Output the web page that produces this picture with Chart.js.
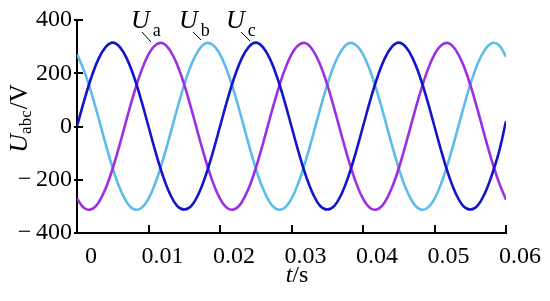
<!DOCTYPE html>
<html>
<head>
<meta charset="utf-8">
<script src="https://cdn.jsdelivr.net/npm/chart.js@4.4.1/dist/chart.umd.min.js"></script>
<style>
  html, body { margin: 0; padding: 0; background: #fff; }
  #wrap { width: 550px; height: 301px; }
</style>
</head>
<body>
<div id="wrap"><canvas id="abcChart"></canvas></div>
<script>
const times = [];
for (let k = 0; k <= 60; k++) times.push(k / 1000);

const uBlue = [0, 97, 184, 253, 298, 315, 298, 253, 184, 97,
    0, -97, -184, -253, -298, -312, -298, -253, -184, -97,
    0, 97, 184, 253, 298, 315, 298, 253, 184, 97,
    0, -97, -184, -253, -298, -312, -298, -253, -184, -97,
    0, 97, 184, 253, 298, 315, 298, 253, 184, 97,
    0, -97, -184, -253, -298, -312, -298, -253, -184, -97, 20];

const uMagenta = [-271, -306, -311, -286, -233, -157, -65, 33, 127, 209,
    271, 306, 313, 286, 233, 157, 65, -33, -127, -209,
    -271, -306, -311, -286, -233, -157, -65, 33, 127, 209,
    271, 306, 313, 286, 233, 157, 65, -33, -127, -209,
    -271, -306, -311, -286, -233, -157, -65, 33, 127, 209,
    271, 306, 313, 286, 233, 157, 65, -33, -127, -209, -275];

const uCyan = [271, 209, 127, 33, -65, -157, -233, -286, -311, -306,
    -271, -209, -127, -33, 65, 157, 233, 286, 313, 306,
    271, 209, 127, 33, -65, -157, -233, -286, -311, -306,
    -271, -209, -127, -33, 65, 157, 233, 286, 313, 306,
    271, 209, 127, 33, -65, -157, -233, -286, -311, -306,
    -271, -209, -127, -33, 65, 157, 233, 286, 313, 306, 262];

const xTicks = [0, 0.01, 0.02, 0.03, 0.04, 0.05, 0.06];
const yTicks = [-400, -200, 0, 200, 400];

const serif = "'Liberation Serif', 'Times New Roman', serif";

function pts(vals) {
    return vals.map((v, i) => ({ x: times[i], y: v }));
}

// inward tick marks, axis titles and curve labels
const decor = {
    id: 'decor',
    afterDraw(chart) {
        const c = chart.ctx;
        const xs = chart.scales.x, ys = chart.scales.y;
        const area = chart.chartArea;
        c.save();
        c.fillStyle = '#000';
        yTicks.forEach(v => {
            const py = Math.round(ys.getPixelForValue(v));
            c.fillRect(area.left - 3, py - 1, 9, 2);
        });
        xTicks.slice(1).forEach(v => {
            const px = Math.round(xs.getPixelForValue(v));
            c.fillRect(px - 1, area.bottom - 8, 2, 9);
        });

        c.strokeStyle = '#000';
        c.textBaseline = 'alphabetic';
        // x title
        c.font = 'italic 24px ' + serif;
        const tw = c.measureText('t').width;
        c.font = '24px ' + serif;
        const sw = c.measureText('/s').width;
        let x0 = 297 - (tw + sw) / 2;
        c.font = 'italic 24px ' + serif;
        c.fillText('t', x0, 282);
        c.font = '24px ' + serif;
        c.fillText('/s', x0 + tw, 282);

        // y title, rotated
        c.save();
        c.translate(27, 119);
        c.rotate(-Math.PI / 2);
        c.font = 'italic 26px ' + serif;
        const uw = c.measureText('U').width;
        c.font = '17px ' + serif;
        const aw = c.measureText('abc').width;
        c.font = '25px ' + serif;
        const vw = c.measureText('/V').width;
        let s = -(uw + aw + vw) / 2;
        c.font = 'italic 26px ' + serif;
        c.fillText('U', s, 0);
        c.font = '17px ' + serif;
        c.fillText('abc', s + uw, 4);
        c.font = '25px ' + serif;
        c.fillText('/V', s + uw + aw + 1, 0);
        c.restore();

        // curve labels with leader lines
        const labels = [
            { sub: 'a', x: 131, lx: 142, ly: 32, ex: 151, ey: 42 },
            { sub: 'b', x: 179, lx: 193, ly: 32, ex: 201, ey: 40 },
            { sub: 'c', x: 226, lx: 241, ly: 32, ex: 250, ey: 41 }
        ];
        labels.forEach(l => {
            c.font = 'italic 26px ' + serif;
            c.fillText('U', l.x, 28);
            const w = c.measureText('U').width;
            c.font = '18px ' + serif;
            c.fillText(l.sub, l.x + w + 3, 36);
            c.lineWidth = 1;
            c.beginPath(); c.moveTo(l.lx, l.ly); c.lineTo(l.ex, l.ey); c.stroke();
        });
        c.restore();
    }
};

new Chart(document.getElementById('abcChart'), {
    type: 'line',
    data: {
        datasets: [
            { label: 'Ua', data: pts(uBlue), borderColor: '#1414cc' },
            { label: 'Ub', data: pts(uMagenta), borderColor: '#9b30e3' },
            { label: 'Uc', data: pts(uCyan), borderColor: '#5cbde8' }
        ]
    },
    options: {
        responsive: true,
        maintainAspectRatio: false,
        animation: false,
        layout: { padding: { left: 0, right: 44, top: 20, bottom: 0 } },
        elements: {
            point: { radius: 0 },
            line: { borderWidth: 2.6, tension: 0.4 }
        },
        plugins: {
            legend: { display: false },
            tooltip: { enabled: false }
        },
        scales: {
            x: {
                type: 'linear',
                min: 0,
                max: 0.06,
                afterBuildTicks: axis => { axis.ticks = xTicks.map(v => ({ value: v })); },
                afterFit: axis => { axis.height = 68; },
                grid: { display: false, drawTicks: false },
                border: { display: true, color: '#000', width: 2 },
                ticks: {
                    color: '#000',
                    padding: 9,
                    labelOffset: 14,
                    maxRotation: 0,
                    font: { family: serif, size: 24 },
                    callback: v => v === 0 ? '0' : v.toFixed(2)
                }
            },
            y: {
                min: -400,
                max: 400,
                afterBuildTicks: axis => { axis.ticks = yTicks.map(v => ({ value: v })); },
                afterFit: axis => { axis.width = 77; },
                grid: { display: false, drawTicks: false },
                border: { display: true, color: '#000', width: 2 },
                ticks: {
                    color: '#000',
                    padding: 5,
                    font: { family: serif, size: 24 },
                    callback: v => v < 0 ? '\u2212\u2009' + Math.abs(v) : String(v)
                }
            }
        }
    },
    plugins: [decor]
});
</script>
</body>
</html>
